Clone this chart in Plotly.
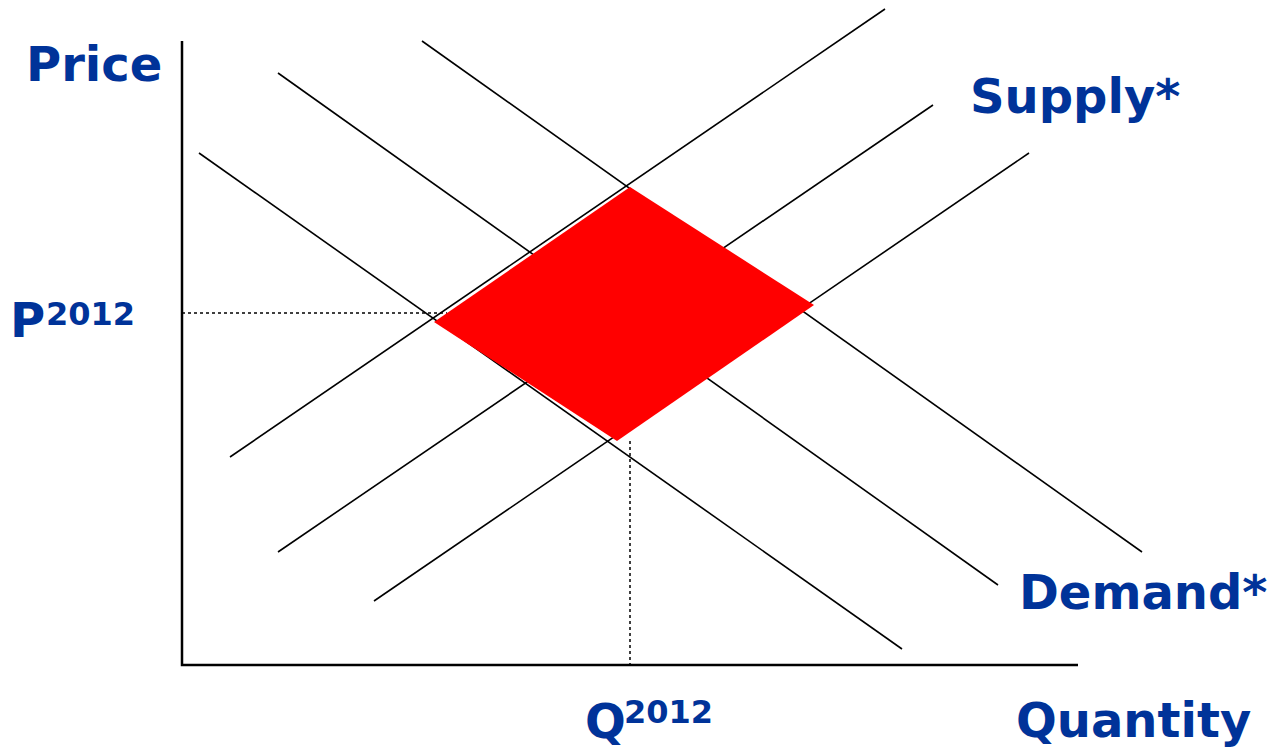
import plotly.graph_objects as go

# Coordinates in (quantity, price) units, origin at the axes' corner
supply_q = [[48, 703], [96, 751], [192, 847]]
supply_p = [[208, 656], [113, 560], [64, 512]]
demand_q = [[240, 960], [96, 816], [17, 720]]
demand_p = [[624, 113], [592, 80], [512, 16]]

diamond_q = [448, 632, 435, 252, 448]
diamond_p = [478, 360, 224, 343, 478]

p2012 = 352
q2012 = 448
p_guide_end_q = 265
q_guide_start_p = 224

axis_q_max = 896
axis_p_max = 624

BLUE = "rgb(0,51,153)"
FONT = "DejaVu Sans"

fig = go.Figure()

# axes
fig.add_trace(go.Scatter(x=[0, 0, axis_q_max], y=[axis_p_max, 0, 0], mode="lines",
                         line=dict(color="black", width=2.5), hoverinfo="skip"))

for q, p in zip(supply_q, supply_p):
    fig.add_trace(go.Scatter(x=q, y=p, mode="lines", line=dict(color="black", width=1.6),
                             hoverinfo="skip"))
for q, p in zip(demand_q, demand_p):
    fig.add_trace(go.Scatter(x=q, y=p, mode="lines", line=dict(color="black", width=1.6),
                             hoverinfo="skip"))

# dotted guides
fig.add_trace(go.Scatter(x=[0, p_guide_end_q], y=[p2012, p2012], mode="lines",
                         line=dict(color="black", width=1.5, dash="dot"), hoverinfo="skip"))
fig.add_trace(go.Scatter(x=[q2012, q2012], y=[q_guide_start_p, 0], mode="lines",
                         line=dict(color="black", width=1.5, dash="dot"), hoverinfo="skip"))

# red diamond
fig.add_trace(go.Scatter(x=diamond_q, y=diamond_p, mode="lines", fill="toself",
                         fillcolor="rgb(255,0,0)", line=dict(color="rgb(255,0,0)", width=0),
                         hoverinfo="skip"))

W, H = 1278, 748


def ann(text, px, py, size=48):
    fig.add_annotation(text=text, x=px / W, y=1 - py / H, xref="paper", yref="paper",
                       xanchor="left", yanchor="middle", showarrow=False,
                       font=dict(family=FONT, size=size, color=BLUE))


ann("<b>Price</b>", 24, 64)
ann("<b>Supply*</b>", 968, 96)
ann("<b>Demand*</b>", 1017, 592)
ann("<b>Quantity</b>", 1014, 720)
ann("<b>P</b>", 8, 320)
ann("<b>2012</b>", 44, 314, 32)
ann("<b>Q</b>", 583, 721)
ann("<b>2012</b>", 622, 712, 32)

fig.update_layout(
    width=W, height=H, margin=dict(l=0, r=0, t=0, b=0),
    paper_bgcolor="white", plot_bgcolor="white", showlegend=False,
    xaxis=dict(range=[-182, W - 182], visible=False, fixedrange=True),
    yaxis=dict(range=[665 - H, 665], visible=False, fixedrange=True),
)

fig.write_html("out.html", config={"displayModeBar": False},
               post_script="document.body.style.margin='0';document.body.style.overflow='hidden';")
